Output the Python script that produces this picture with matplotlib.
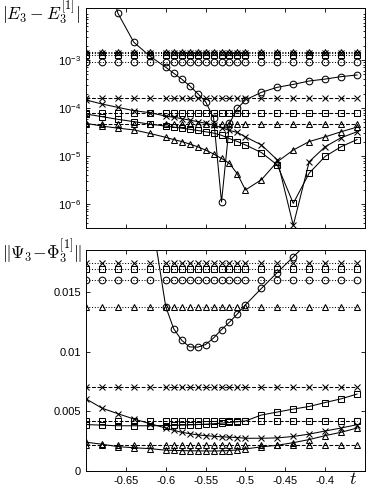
import numpy as np
import matplotlib
matplotlib.use('Agg')
from matplotlib import pyplot as plt
from matplotlib import ticker

plt.rcParams['font.family'] = 'Liberation Sans'
plt.rcParams['axes.unicode_minus'] = False

########
# DATA #
########

t = [-0.7, -0.68, -0.66, -0.64, -0.62,
     -0.6, -0.59, -0.58, -0.57, -0.56, -0.55, -0.54, -0.53, -0.52, -0.51, -0.5,
     -0.48, -0.46, -0.44, -0.42, -0.4, -0.38, -0.36]

# top panel |E3 - E3^[1]|  (log scale)
E_dot = {'^': 1.47e-3, 'x': 1.40e-3, 's': 1.27e-3, 'o': 0.91e-3}
E_dash = {'x': 1.59e-4, 's': 7.8e-5, '^': 4.6e-5}
E_circ = [1.0, 0.17, 9.4e-3, 2.34e-3, 1.21e-3,
          7.05e-4, 5.3e-4, 4.0e-4, 2.9e-4, 2.0e-4, 1.35e-4, 6.3e-5, 1.1e-6, 4.8e-5, 9.8e-5, 1.47e-4,
          2.12e-4, 2.7e-4, 3.1e-4, 3.65e-4, 4.0e-4, 4.5e-4, 4.87e-4]
E_x = [1.47e-4, 1.21e-4, 1.03e-4, 8.8e-5, 8.0e-5,
       6.8e-5, 6.4e-5, 6.0e-5, 5.6e-5, 5.2e-5, 4.8e-5, 4.4e-5, 3.9e-5, 3.4e-5, 3.1e-5, 2.5e-5,
       1.7e-5, 8.3e-6, 3.6e-7, 7.6e-6, 1.56e-5, 2.4e-5, 3.2e-5]
E_sq = [7.5e-5, 6.6e-5, 5.8e-5, 5.2e-5, 4.6e-5,
        4.2e-5, 4.0e-5, 3.8e-5, 3.6e-5, 3.4e-5, 3.2e-5, 3.0e-5, 2.7e-5, 2.3e-5, 2.0e-5, 1.7e-5,
        1.18e-5, 6.5e-6, 1.03e-6, 4.4e-6, 9.8e-6, 1.56e-5, 2.2e-5]
E_tri = [4.8e-5, 4.2e-5, 3.8e-5, 3.5e-5, 2.95e-5,
         2.45e-5, 2.2e-5, 2.0e-5, 1.78e-5, 1.56e-5, 1.33e-5, 1.1e-5, 8.9e-6, 7.0e-6, 4.2e-6, 1.96e-6,
         3.2e-6, 7.6e-6, 1.33e-5, 2.0e-5, 2.5e-5, 3.2e-5, 4.0e-5]

# bottom panel ||Psi3 - Phi3^[1]||
P_dot = {'x': 0.01745, 's': 0.0170, 'o': 0.01603, '^': 0.01381}
P_dash = {'x': 0.00703, 's': 0.00423, '^': 0.0022}
P_circ = [0.06, 0.045, 0.035, 0.028, 0.0223,
          0.01381, 0.01195, 0.01098, 0.01042, 0.0104, 0.01062, 0.01117, 0.01187, 0.0125, 0.0132, 0.01395,
          0.01533, 0.01667, 0.01798, 0.0193, 0.0206, 0.0219, 0.0232]
P_x = [0.00606, 0.00528, 0.00481, 0.00437, 0.00398,
       0.00361, 0.00342, 0.00325, 0.00314, 0.00303, 0.00297, 0.00292, 0.00287, 0.00284, 0.00281, 0.00275,
       0.00275, 0.00278, 0.0029, 0.0031, 0.00336, 0.00361, 0.00389]
P_sq = [0.0039, 0.00385, 0.0038, 0.0038, 0.0038,
        0.00382, 0.00383, 0.00385, 0.00387, 0.0039, 0.00393, 0.00397, 0.00402, 0.00408, 0.00414, 0.0042,
        0.0047, 0.00495, 0.0052, 0.00542, 0.00575, 0.00606, 0.00646]
P_tri = [0.00242, 0.00225, 0.00205, 0.00195, 0.00188,
         0.00175, 0.00173, 0.00171, 0.0017, 0.00169, 0.00168, 0.00168, 0.00169, 0.00172, 0.00177, 0.00185,
         0.00203, 0.00216, 0.00238, 0.00264, 0.00297, 0.00325, 0.00361]

xticks = [-0.65, -0.6, -0.55, -0.5, -0.45, -0.4]
yticks_bot = [0, 0.005, 0.01, 0.015]
yticklabels_bot = ['0', '0.005', '0.01', '0.015']

########
# PLOT #
########

ms = {'o': 4.8, 'x': 4.8, 's': 4.2, '^': 4.8}
lw = 0.75
tt = np.array(t)

def style(ax):
    ax.tick_params(which='both', direction='in', top=True, right=True,
                   labelsize=8, width=0.6)
    ax.tick_params(which='major', length=3)
    ax.tick_params(which='minor', length=1.6)
    for s in ax.spines.values():
        s.set_linewidth(0.7)
    ax.set_xlim(-0.7, -0.35)
    ax.set_xticks(xticks)

def rows(ax, d, ls):
    for m, v in d.items():
        ax.plot(tt, np.full(len(tt), v), ls, color='k', lw=lw, marker=m,
                ms=ms[m], mfc='none', mew=0.75)

fig = plt.figure(figsize=(3.73, 4.88), dpi=100)

# top panel
ax1 = fig.add_axes([86/373, 1-228/488, 279/373, 220/488])
rows(ax1, E_dot, ':')
rows(ax1, E_dash, '--')
for y, m in [(E_circ, 'o'), (E_x, 'x'), (E_sq, 's'), (E_tri, '^')]:
    ax1.plot(tt, y, '-', color='k', lw=lw, marker=m, ms=ms[m], mfc='none', mew=0.75)
ax1.set_yscale('log')
ax1.set_ylim(10**-6.5, 10**-1.917)
ax1.set_yticks([1e-6, 1e-5, 1e-4, 1e-3])
ax1.yaxis.set_minor_locator(ticker.LogLocator(subs=np.arange(2, 10)))
ax1.yaxis.set_minor_formatter(ticker.NullFormatter())
style(ax1)
ax1.set_xticklabels([])

# bottom panel
ax2 = fig.add_axes([86/373, 1-471/488, 279/373, 221/488])
rows(ax2, P_dot, ':')
rows(ax2, P_dash, '--')
for y, m in [(P_circ, 'o'), (P_x, 'x'), (P_sq, 's'), (P_tri, '^')]:
    ax2.plot(tt, y, '-', color='k', lw=lw, marker=m, ms=ms[m], mfc='none', mew=0.75)
ax2.set_ylim(0, 0.01856)
ax2.set_yticks(yticks_bot)
ax2.set_yticklabels(yticklabels_bot)
style(ax2)
ax2.set_xticklabels(['%g' % x for x in xticks])

fig.text(2/373, 1-13/488, r'$|E_3 - E_3^{[1]}|$', fontsize=12.5,
         math_fontfamily='cm', va='center', ha='left')
fig.text(2/373, 1-252/488, r'$\|\Psi_3\!-\!\Phi_3^{[1]}\|$', fontsize=12.5,
         math_fontfamily='cm', va='center', ha='left')
fig.text(353/373, 1-480/488, r'$t$', fontsize=13,
         math_fontfamily='cm', va='center', ha='center')

plt.savefig('out.png', dpi=100)
plt.close()
